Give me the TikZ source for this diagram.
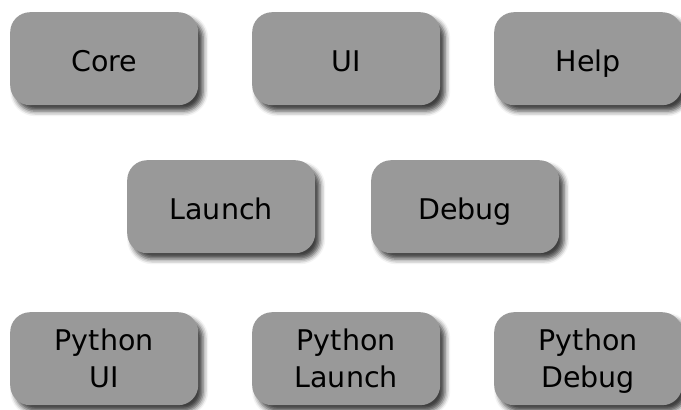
\documentclass[tikz,border=0pt]{standalone}
\usepackage{fontspec}
\setmainfont{DejaVu Sans}
\usetikzlibrary{shadows.blur}
\definecolor{boxgray}{HTML}{999999}
\tikzset{
  box/.style={rectangle, rounded corners=20pt, fill=boxgray, draw=none,
    minimum width=188pt, minimum height=93pt, inner sep=0pt, anchor=north west,
    align=center, text=black,
    font=\fontsize{28.5pt}{37pt}\selectfont,
    blur shadow={shadow xshift=5pt, shadow yshift=-6pt, shadow blur radius=5pt, shadow opacity=75}},
  oneline/.style={text height=26pt, text depth=1pt},
  twoline/.style={text height=64pt, text depth=7pt}
}
\begin{document}
\begin{tikzpicture}[x=1pt,y=-1pt]
\useasboundingbox (0,0) rectangle (681,410);
\node[box, oneline] (core) at (10,12) {Core};
\node[box, oneline] (ui) at (252,12) {UI};
\node[box, oneline] (help) at (494,12) {Help};
\node[box, oneline] (launch) at (127,160) {Launch};
\node[box, oneline] (debug) at (371,160) {Debug};
\node[box, twoline] (pyui) at (10,312) {Python\\UI};
\node[box, twoline] (pylaunch) at (252,312) {Python\\Launch};
\node[box, twoline] (pydebug) at (494,312) {Python\\Debug};
\end{tikzpicture}
\end{document}
